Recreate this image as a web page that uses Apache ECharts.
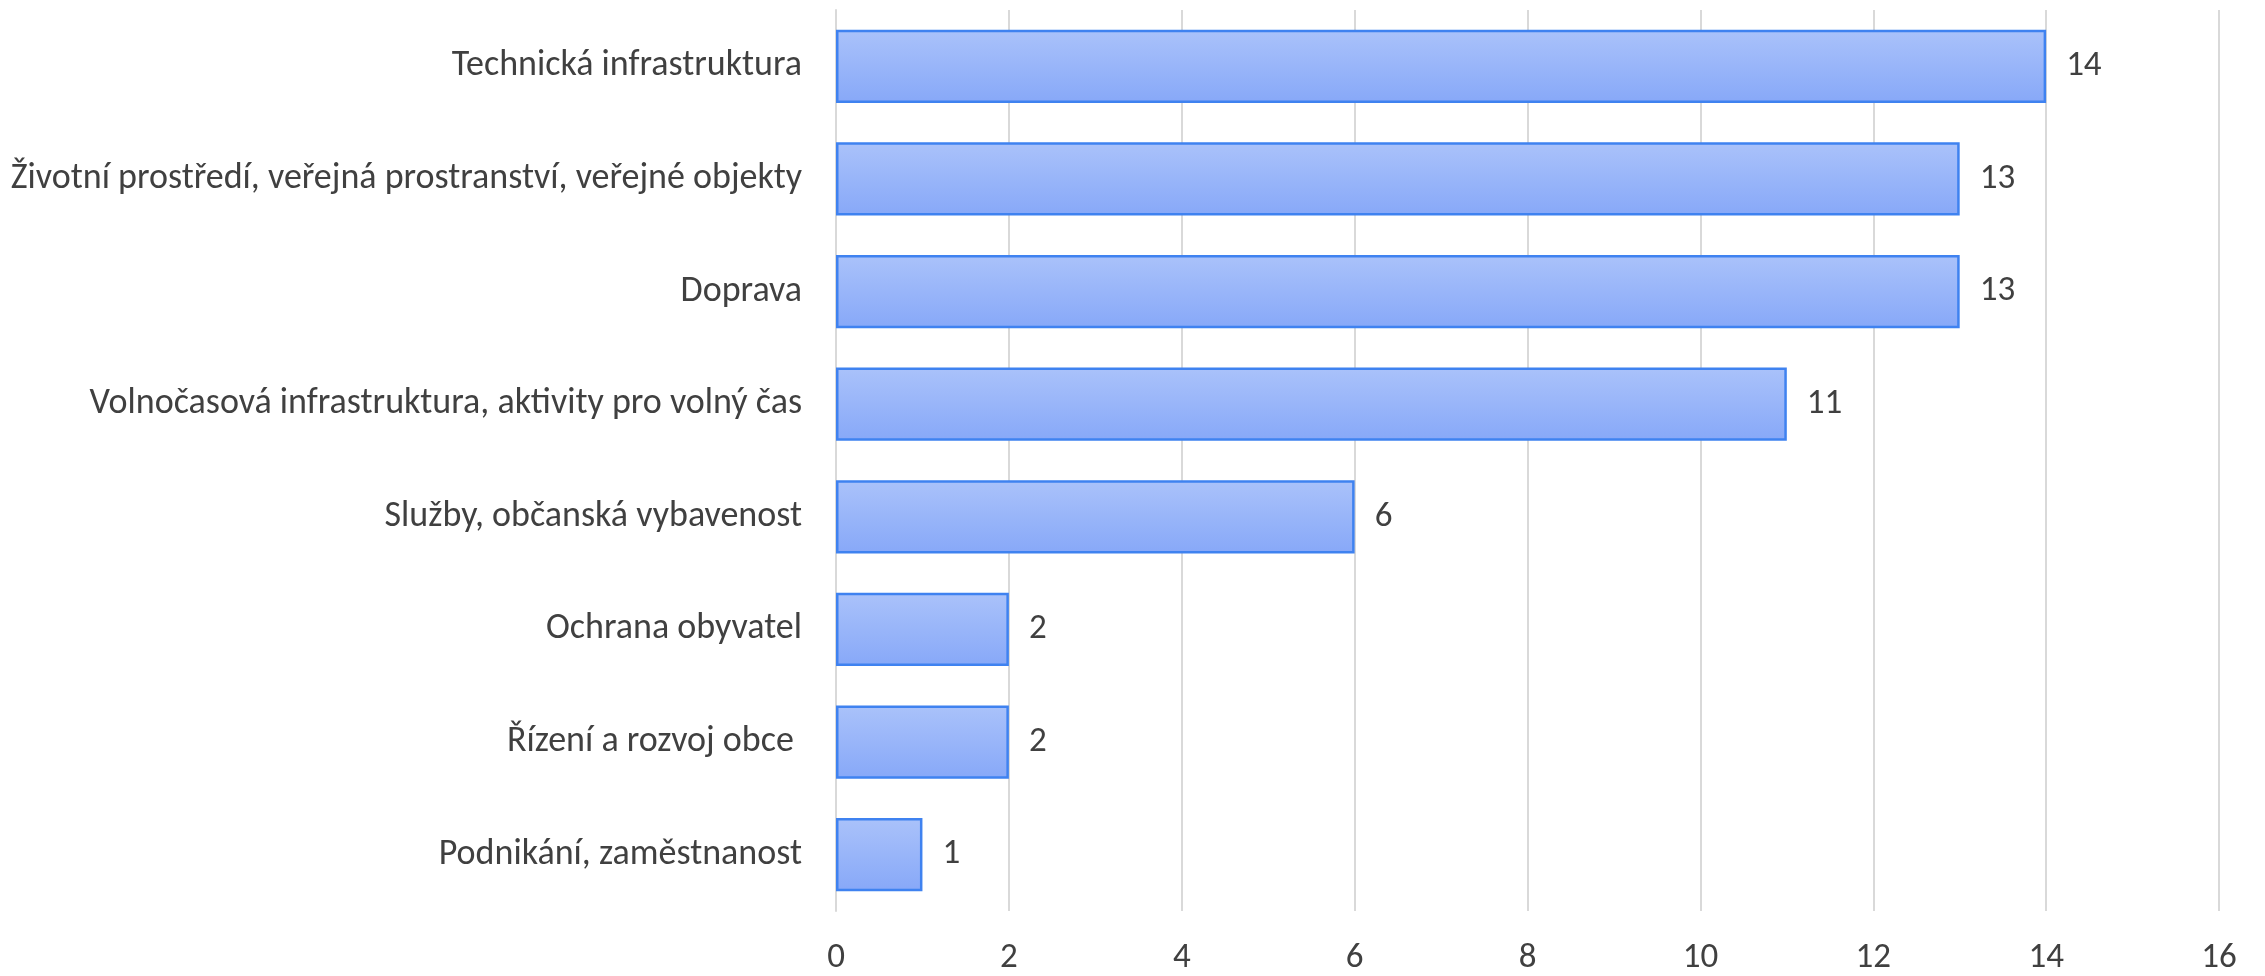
<!DOCTYPE html>
<html>
<head>
<meta charset="utf-8">
<script src="https://cdn.jsdelivr.net/npm/echarts@6/dist/echarts.min.js"></script>
<style>
  html, body { margin: 0; padding: 0; background: #fff; }
  #main { width: 2265px; height: 976px; }
</style>
</head>
<body>
<div id="main"></div>
<script>
// data, top to bottom
var categories = [
  'Technická infrastruktura',
  'Životní prostředí, veřejná prostranství, veřejné objekty',
  'Doprava',
  'Volnočasová infrastruktura, aktivity pro volný čas',
  'Služby, občanská vybavenost',
  'Ochrana obyvatel',
  'Řízení a rozvoj obce ',
  'Podnikání, zaměstnanost'
];
var counts = [14, 13, 13, 11, 6, 2, 2, 1];
var xTicks = [0, 2, 4, 6, 8, 10, 12, 14, 16];

var font = "Carlito, 'Liberation Sans Narrow', 'Noto Sans', sans-serif";

var myChart = echarts.init(document.getElementById('main'));
var option = {
  animation: false,
  textStyle: { fontFamily: font },
  grid: { left: 836, right: 46, top: 10, bottom: 63, containLabel: false },
  xAxis: {
    type: 'value',
    min: xTicks[0],
    max: xTicks[xTicks.length - 1],
    interval: 2,
    axisLine: { show: false },
    axisTick: { show: false },
    splitLine: { lineStyle: { color: '#d9d9d9', width: 2 } },
    axisLabel: { color: '#404040', fontSize: 35, margin: 30, fontFamily: font }
  },
  yAxis: {
    type: 'category',
    data: categories,
    inverse: true,
    axisLine: { show: true, lineStyle: { color: '#d9d9d9', width: 2 } },
    axisTick: { show: false },
    axisLabel: { color: '#404040', fontSize: 36, margin: 34, fontFamily: font }
  },
  series: [{
    type: 'bar',
    data: counts,
    barCategoryGap: '35%',
    itemStyle: {
      color: new echarts.graphic.LinearGradient(0, 0, 0, 1, [
        { offset: 0, color: '#aac2fa' },
        { offset: 1, color: '#87a8f8' }
      ]),
      borderColor: '#3f82f0',
      borderWidth: 2.5
    },
    label: {
      show: true,
      position: 'right',
      distance: 20,
      color: '#404040',
      fontSize: 35,
      fontFamily: font
    }
  }]
};
myChart.setOption(option);
</script>
</body>
</html>
